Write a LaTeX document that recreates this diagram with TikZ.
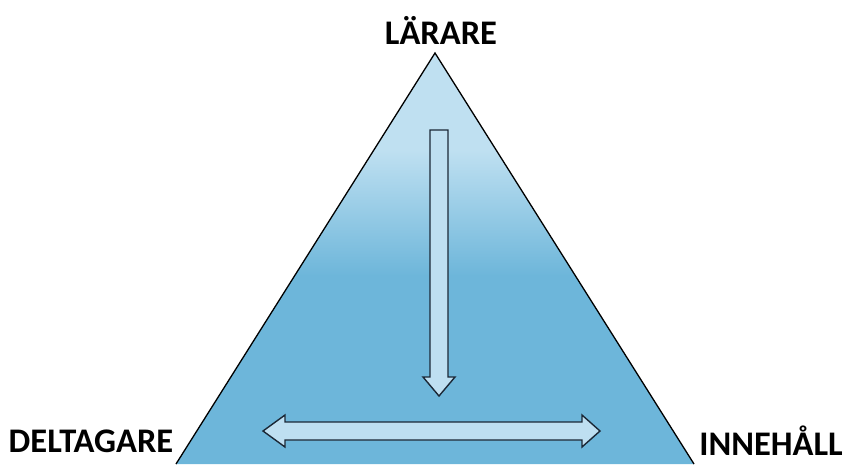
\documentclass[tikz,border=0pt]{standalone}
\usepackage{fontspec}
\setmainfont{Carlito}
\definecolor{triTop}{HTML}{BFE0F1}
\definecolor{triBot}{HTML}{6DB6DA}
\definecolor{arrFill}{HTML}{BEDFF1}
\definecolor{arrLine}{HTML}{1B2836}
\tikzset{
  lbl/.style={font=\bfseries\fontsize{34.5}{38}\selectfont, text=black, inner sep=0pt},
  arrowshape/.style={fill=arrFill, draw=arrLine, line width=1.4pt, line join=miter},
}
\begin{document}
\begin{tikzpicture}[x=1pt,y=-1pt]
\useasboundingbox (0,0) rectangle (844,464);
\fill[white] (0,0) rectangle (844,464);
% triangle
\coordinate (apex) at (435,53);
\coordinate (bl) at (176,464);
\coordinate (br) at (694,464);
\begin{scope}
  \clip (apex) -- (br) -- (bl) -- cycle;
  \fill[triTop] (170,50) rectangle (700,151);
  \shade[top color=triTop, bottom color=triBot] (170,150) rectangle (700,276);
  \fill[triBot] (170,275) rectangle (700,465);
\end{scope}
\draw[black, line width=1.3pt, line join=miter] (bl) -- (apex) -- (br);
% vertical arrow
\draw[arrowshape] (430,130) -- (448,130) -- (448,377) -- (455,377) -- (439,396) -- (423,377) -- (430,377) -- cycle;
% horizontal double arrow
\draw[arrowshape] (263,431) -- (285,415) -- (285,422) -- (582,422) -- (582,415) -- (600,431) -- (582,447) -- (582,440) -- (285,440) -- (285,447) -- cycle;
% labels
\node[lbl] (larare) at (441,30) {LÄRARE};
\node[lbl] (deltagare) at (91,441) {DELTAGARE};
\node[lbl] (innehall) at (771,441) {INNEHÅLL};
\end{tikzpicture}
\end{document}
